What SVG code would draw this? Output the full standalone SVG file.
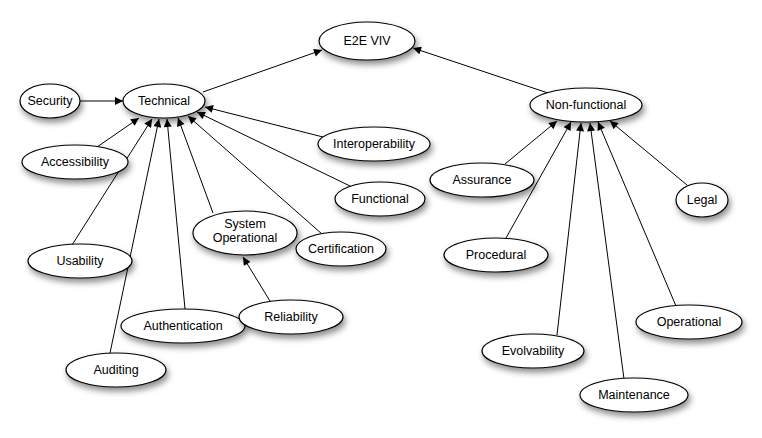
<svg xmlns="http://www.w3.org/2000/svg" width="762" height="438" viewBox="0 0 762 438">
<defs>
<style>
.n ellipse{fill:#fff;stroke:#000;stroke-width:1.2;filter:url(#sh)}
.n text{font-family:"Liberation Sans",Arial,sans-serif;font-size:12.5px;fill:#000;text-anchor:middle}
#edges line{stroke:#000;stroke-width:1;marker-end:url(#ah)}
</style>
<filter id="sh" x="-30%" y="-40%" width="160%" height="190%">
<feDropShadow dx="2" dy="4" stdDeviation="3" flood-color="#000" flood-opacity="0.45"/>
</filter>
<marker id="ah" viewBox="0 0 10 10" refX="10" refY="5" markerWidth="10" markerHeight="8" markerUnits="userSpaceOnUse" orient="auto">
<path d="M0,0 L10,5 L0,10 z" fill="#000"/>
</marker>
</defs>
<rect width="762" height="438" fill="#fff"/>
<g id="edges">
<line x1="203" y1="92" x2="322" y2="50"/>
<line x1="548" y1="93" x2="413" y2="48"/>
<line x1="80" y1="101" x2="123" y2="101"/>
<line x1="97" y1="147" x2="139" y2="118"/>
<line x1="72" y1="245" x2="152" y2="119"/>
<line x1="110" y1="353" x2="159" y2="119"/>
<line x1="185" y1="309" x2="167" y2="119"/>
<line x1="213" y1="213" x2="178" y2="118"/>
<line x1="322" y1="234" x2="188" y2="116"/>
<line x1="350" y1="186" x2="197" y2="112"/>
<line x1="323" y1="137" x2="205" y2="107"/>
<line x1="270" y1="301" x2="243" y2="257"/>
<line x1="505" y1="164" x2="557" y2="121"/>
<line x1="506" y1="238" x2="571" y2="122"/>
<line x1="557" y1="335" x2="581" y2="123"/>
<line x1="624" y1="379" x2="590" y2="123"/>
<line x1="676" y1="306" x2="598" y2="122"/>
<line x1="687" y1="185" x2="610" y2="121"/>
</g>
<g id="e2e" class="n"><ellipse cx="367" cy="41" rx="48" ry="19"/><text x="367" y="45">E2E VIV</text></g>
<g id="technical" class="n"><ellipse cx="164" cy="101" rx="41" ry="17"/><text x="164" y="105">Technical</text></g>
<g id="security" class="n"><ellipse cx="50" cy="101" rx="30" ry="17"/><text x="50" y="105">Security</text></g>
<g id="accessibility" class="n"><ellipse cx="75" cy="162" rx="53" ry="17"/><text x="75" y="166">Accessibility</text></g>
<g id="interoperability" class="n"><ellipse cx="374" cy="144" rx="56" ry="17"/><text x="374" y="148">Interoperability</text></g>
<g id="functional" class="n"><ellipse cx="380" cy="199" rx="45" ry="17"/><text x="380" y="203">Functional</text></g>
<g id="sysop" class="n"><ellipse cx="245" cy="233" rx="52" ry="22"/><text x="245" y="228">System</text><text x="245" y="242">Operational</text></g>
<g id="certification" class="n"><ellipse cx="341" cy="249" rx="45" ry="17"/><text x="341" y="253">Certification</text></g>
<g id="usability" class="n"><ellipse cx="80" cy="261" rx="52" ry="17"/><text x="80" y="265">Usability</text></g>
<g id="authentication" class="n"><ellipse cx="183" cy="326" rx="62" ry="17"/><text x="183" y="330">Authentication</text></g>
<g id="reliability" class="n"><ellipse cx="291" cy="317" rx="52" ry="17"/><text x="291" y="321">Reliability</text></g>
<g id="auditing" class="n"><ellipse cx="116" cy="370" rx="50" ry="17"/><text x="116" y="374">Auditing</text></g>
<g id="nonfunctional" class="n"><ellipse cx="586" cy="105" rx="56" ry="17"/><text x="586" y="109">Non-functional</text></g>
<g id="assurance" class="n"><ellipse cx="482" cy="180" rx="52" ry="17"/><text x="482" y="184">Assurance</text></g>
<g id="legal" class="n"><ellipse cx="702" cy="200" rx="26" ry="17"/><text x="702" y="204">Legal</text></g>
<g id="procedural" class="n"><ellipse cx="496" cy="255" rx="52" ry="17"/><text x="496" y="259">Procedural</text></g>
<g id="operational" class="n"><ellipse cx="689" cy="322" rx="53" ry="17"/><text x="689" y="326">Operational</text></g>
<g id="evolvability" class="n"><ellipse cx="533" cy="351" rx="51" ry="17"/><text x="533" y="355">Evolvability</text></g>
<g id="maintenance" class="n"><ellipse cx="634" cy="395" rx="54" ry="17"/><text x="634" y="399">Maintenance</text></g>
</svg>
